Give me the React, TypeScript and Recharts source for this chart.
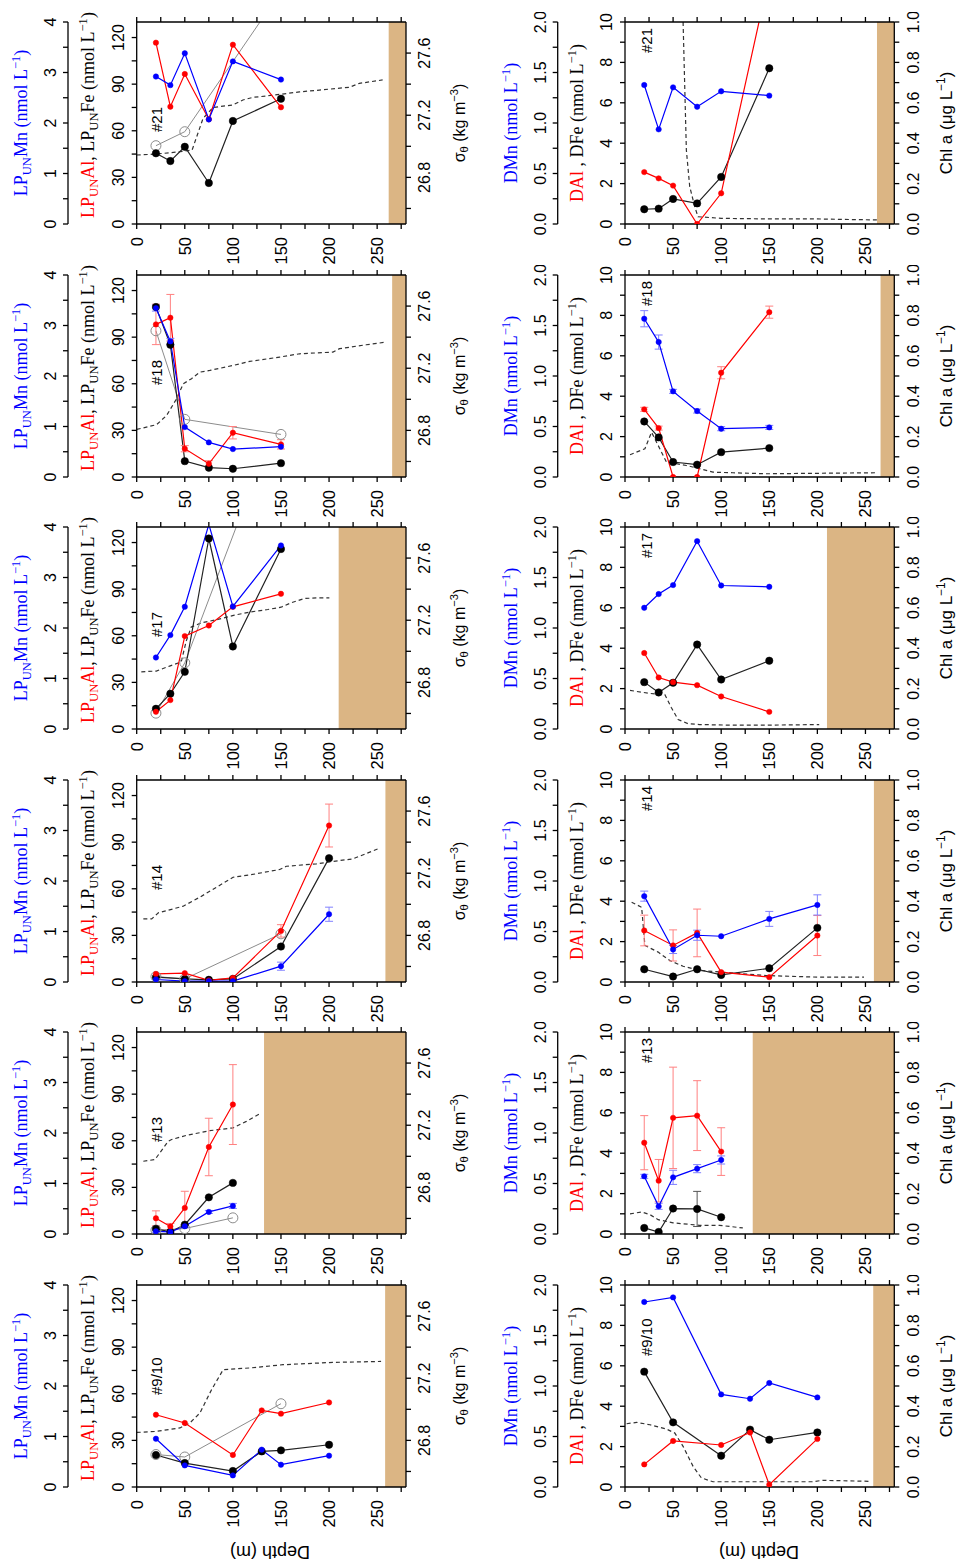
import React from 'react';
import { ComposedChart, Line, XAxis, YAxis, ReferenceArea, ErrorBar } from 'recharts';

const SANS = '"Liberation Sans", Arial, Helvetica, sans-serif';
const SERIF = '"Liberation Serif", "Times New Roman", serif';
const BLUE = '#0000ff';
const RED = '#ff0000';
const BLACK = '#000000';
const GRAY = '#8c8c8c';
const SAND = '#dbb584';

// ---------- tick arrays ----------
const depthTicks = [0, 25, 50, 75, 100, 125, 150, 175, 200, 225, 250, 275];
const feTicks = [0, 15, 30, 45, 60, 75, 90, 105, 120];
const mnTicks = [0, 0.5, 1, 1.5, 2, 2.5, 3, 3.5, 4];
const sigmaTicks = [26.6, 26.8, 27.0, 27.2, 27.4, 27.6];
const dTicks = [0, 1, 2, 3, 4, 5, 6, 7, 8, 9, 10];
const dmnTicks = [0, 0.25, 0.5, 0.75, 1, 1.25, 1.5, 1.75, 2];
const chlTicks = [0, 0.1, 0.2, 0.3, 0.4, 0.5, 0.6, 0.7, 0.8, 0.9, 1.0];

// ---------- station #21 ----------
const depth21 = [20, 35, 50, 75, 100, 150];
const mn21 = [2.92, 2.75, 3.38, 2.07, 3.22, 2.86];
const al21 = [116.7, 75.5, 96.5, 67.4, 115.4, 75.1];
const fe21 = [45.5, 40.5, 49.7, 26.4, 66.3, 80.6];
const grayDepth21 = [20, 50, 150];
const gray21 = [50.4, 59.4, 149.7];
const sigDepth21 = [0, 20, 44.9, 57.6, 69, 79.4, 100, 110.4, 120.8, 134.7, 150, 169.2, 190, 221, 231.5, 255.7];
const sig21 = [26.944, 26.95, 26.965, 26.976, 27.18, 27.25, 27.266, 27.298, 27.315, 27.324, 27.335, 27.35, 27.362, 27.38, 27.405, 27.427];
const dmn21 = [1.376, 0.937, 1.353, 1.161, 1.314, 1.271];
const dal21 = [2.57, 2.26, 1.9, 0, 1.52, 12.3];
const dfe21 = [0.73, 0.76, 1.24, 1.02, 2.33, 7.71];
const chlDepth21 = [60.4, 63.8, 67.3, 72.5, 75.9, 100, 150, 200, 262];
const chl21 = [1.0, 0.366, 0.185, 0.086, 0.036, 0.028, 0.025, 0.025, 0.02];

// ---------- station #18 ----------
const depth18 = [20, 35, 50, 75, 100, 150];
const mn18 = [3.345, 2.685, 0.988, 0.685, 0.553, 0.6];
const mnErr18 = [0.06, 0.06, 0, 0, 0, 0];
const al18 = [98.2, 102.5, 18.2, 8.5, 28.5, 21.0];
const alErr18 = [13, 15, 2, 2, 4, 3];
const fe18 = [109.4, 85.1, 10.2, 6.0, 5.3, 8.9];
const grayDepth18 = [20, 50, 150];
const gray18 = [94.1, 37.1, 27.4];
const sigDepth18 = [0, 20.7, 31.1, 41.5, 48.4, 57, 65.7, 76, 100.2, 117.5, 148.7, 169.4, 204, 210.9, 238.6, 259.4];
const sig18 = [26.806, 26.837, 26.896, 27.004, 27.1, 27.133, 27.175, 27.186, 27.218, 27.244, 27.272, 27.293, 27.304, 27.326, 27.351, 27.368];
const dmn18 = [1.567, 1.336, 0.848, 0.653, 0.478, 0.491];
const dmnErr18 = [0.08, 0.07, 0.02, 0.02, 0.02, 0.02];
const dal18 = [3.35, 2.42, 0, 0, 5.16, 8.16];
const dalErr18 = [0.1, 0.1, 0, 0, 0.3, 0.3];
const dfe18 = [2.75, 1.96, 0.74, 0.61, 1.23, 1.43];
const chlDepth18 = [5.2, 20.7, 27.6, 34.5, 43.1, 53.5, 63.9, 77.6, 91.4, 112.1, 146.7, 260.5];
const chl18 = [0.11, 0.14, 0.222, 0.156, 0.074, 0.066, 0.057, 0.041, 0.024, 0.021, 0.016, 0.021];

// ---------- station #17 ----------
const depth17 = [20, 35, 50, 75, 100, 150];
const mn17 = [1.416, 1.859, 2.42, 4.05, 2.426, 3.634];
const al17 = [11.1, 18.6, 59.8, 66.6, 78.6, 87.0];
const fe17 = [13.0, 22.7, 36.8, 122.6, 53.1, 115.8];
const grayDepth17 = [20, 50, 150];
const gray17 = [10.2, 42.6, 206];
const sigDepth17 = [4.8, 20.4, 34.2, 46.3, 51.5, 56.7, 67.1, 84.4, 101.7, 119, 136.3, 150.1, 160.5, 174.3, 188.2, 200.3];
const sig17 = [26.868, 26.873, 26.905, 26.932, 27.066, 27.156, 27.183, 27.205, 27.233, 27.254, 27.269, 27.284, 27.312, 27.34, 27.344, 27.344];
const dmn17 = [1.2, 1.336, 1.425, 1.86, 1.421, 1.408];
const dal17 = [3.76, 2.55, 2.32, 2.17, 1.61, 0.85];
const dfe17 = [2.32, 1.81, 2.29, 4.18, 2.45, 3.38];
const chlDepth17 = [5.2, 25.9, 41.4, 48.3, 55.2, 65.6, 77.6, 112.1, 146.7, 201.9];
const chl17 = [0.191, 0.176, 0.171, 0.105, 0.047, 0.026, 0.022, 0.019, 0.019, 0.022];

// ---------- station #14 ----------
const depth14 = [20, 50, 75, 100, 150, 200];
const mn14 = [0.05, 0.016, 0.016, 0.016, 0.313, 1.342];
const mnErr14 = [0, 0, 0, 0, 0.08, 0.14];
const al14 = [5.2, 5.7, 1.0, 2.6, 32.9, 100.7];
const alErr14 = [0, 0, 0, 0, 4, 13.8];
const fe14 = [3.1, 2.0, 1.4, 2.0, 22.8, 79.7];
const grayDepth14 = [20, 50, 150];
const gray14 = [3.5, 2.0, 31.0];
const sigDepth14 = [6.9, 15.6, 22.5, 48.4, 65.7, 83, 100.2, 117.5, 148.7, 155.6, 186.7, 204, 224.7, 250.7];
const sig14 = [26.906, 26.906, 26.945, 26.988, 27.046, 27.11, 27.174, 27.189, 27.224, 27.245, 27.26, 27.276, 27.292, 27.357];
const dmn14 = [0.85, 0.322, 0.463, 0.453, 0.625, 0.763];
const dmnErr14 = [0.05, 0.04, 0.05, 0, 0.074, 0.1];
const dal14 = [2.55, 1.81, 2.43, 0.49, 0.24, 2.3];
const dalErr14 = [0.76, 0.77, 1.18, 0, 0, 0.99];
const dfe14 = [0.63, 0.27, 0.63, 0.35, 0.68, 2.68];
const chlDepth14 = [6.9, 17.3, 20.7, 34.5, 46.6, 60.4, 77.6, 100.1, 146.7, 200.2, 248.5];
const chl14 = [0.395, 0.37, 0.181, 0.148, 0.106, 0.078, 0.057, 0.049, 0.032, 0.024, 0.024];

// ---------- station #13 ----------
const depth13 = [20, 35, 50, 75, 100];
const mn13 = [0.053, 0.041, 0.153, 0.437, 0.556];
const mnErr13 = [0.02, 0.02, 0.03, 0.03, 0.05];
const al13 = [10.1, 4.8, 16.8, 56.0, 83.3];
const alErr13 = [4.8, 2, 10.7, 18.5, 25.7];
const fe13 = [3.3, 1.4, 6.0, 23.6, 32.9];
const grayDepth13 = [20, 50, 100];
const gray13 = [2.5, 3.5, 10.4];
const sigDepth13 = [6.9, 19, 32.8, 36.3, 51.9, 76, 100.2, 114, 127.9];
const sig13 = [26.968, 26.979, 27.097, 27.108, 27.135, 27.165, 27.183, 27.225, 27.273];
const dmn13 = [0.571, 0.274, 0.561, 0.647, 0.733];
const dmnErr13 = [0.02, 0.03, 0.07, 0.04, 0.04];
const dal13 = [4.52, 2.64, 5.75, 5.86, 4.08];
const dalErr13 = [1.34, 1.05, 2.51, 1.73, 1.18];
const dfe13 = [0.3, 0.1, 1.26, 1.24, 0.83];
const dfeErr13 = [0, 0, 0, 0.87, 0];
const chlDepth13 = [5.2, 17.3, 25.9, 34.5, 50, 77.6, 98.3, 122.5];
const chl13 = [0.0995, 0.109, 0.096, 0.071, 0.055, 0.043, 0.043, 0.03];

// ---------- station #9/10 ----------
const depth9 = [20, 50, 100, 130, 150, 200];
const mn9 = [0.956, 0.428, 0.23, 0.739, 0.442, 0.62];
const al9 = [46.5, 41.2, 20.6, 49.3, 47.2, 54.4];
const fe9 = [20.6, 15.4, 10.3, 22.9, 23.6, 27.2];
const grayDepth9 = [20, 50, 150];
const gray9 = [20.9, 19.3, 53.6];
const sigDepth9 = [0, 20.7, 44.9, 55.3, 65.7, 77.8, 89.9, 117.5, 152.1, 204, 254.1];
const sig9 = [26.851, 26.858, 26.88, 26.912, 26.976, 27.126, 27.255, 27.266, 27.287, 27.302, 27.308];
const dmn9 = [1.832, 1.877, 0.917, 0.874, 1.03, 0.887];
const dal9 = [1.12, 2.28, 2.08, 2.7, 0.11, 2.38];
const dfe9 = [5.71, 3.2, 1.55, 2.84, 2.34, 2.7];
const chlDepth9 = [1.7, 12.1, 25.9, 43.1, 51.8, 60.4, 70.8, 79.4, 91.4, 125.9, 160.5, 195, 205.4, 255.4];
const chl9 = [0.313, 0.32, 0.308, 0.287, 0.267, 0.201, 0.102, 0.045, 0.026, 0.026, 0.026, 0.026, 0.033, 0.028];

type Pt = { d: number; v: number; e: number };
const pts = (d: number[], v: number[], e?: number[] | null): Pt[] =>
  d.map((x, i) => ({ d: x, v: v[i], e: e ? e[i] : 0 }));

const leftPanels = [
  { label: '#21', labelY: 110, bottom: 262, depth: depth21, mn: mn21, mnErr: null, al: al21, alErr: null, fe: fe21, gd: grayDepth21, gv: gray21, sd: sigDepth21, sv: sig21 },
  { label: '#18', labelY: 110, bottom: 265.6, depth: depth18, mn: mn18, mnErr: mnErr18, al: al18, alErr: alErr18, fe: fe18, gd: grayDepth18, gv: gray18, sd: sigDepth18, sv: sig18 },
  { label: '#17', labelY: 110, bottom: 210, depth: depth17, mn: mn17, mnErr: null, al: al17, alErr: null, fe: fe17, gd: grayDepth17, gv: gray17, sd: sigDepth17, sv: sig17 },
  { label: '#14', labelY: 110, bottom: 258.6, depth: depth14, mn: mn14, mnErr: mnErr14, al: al14, alErr: alErr14, fe: fe14, gd: grayDepth14, gv: gray14, sd: sigDepth14, sv: sig14 },
  { label: '#13', labelY: 110, bottom: 132.4, depth: depth13, mn: mn13, mnErr: mnErr13, al: al13, alErr: alErr13, fe: fe13, gd: grayDepth13, gv: gray13, sd: sigDepth13, sv: sig13 },
  { label: '#9/10', labelY: 110, bottom: 258.3, depth: depth9, mn: mn9, mnErr: null, al: al9, alErr: null, fe: fe9, gd: grayDepth9, gv: gray9, sd: sigDepth9, sv: sig9 },
];

const rightPanels = [
  { label: '#21', labelY: 31, bottom: 262, depth: depth21, dmn: dmn21, dmnErr: null, dal: dal21, dalErr: null, dfe: dfe21, dfeErr: null, cd: chlDepth21, cv: chl21 },
  { label: '#18', labelY: 31, bottom: 265.7, depth: depth18, dmn: dmn18, dmnErr: dmnErr18, dal: dal18, dalErr: dalErr18, dfe: dfe18, dfeErr: null, cd: chlDepth18, cv: chl18 },
  { label: '#17', labelY: 31, bottom: 210, depth: depth17, dmn: dmn17, dmnErr: null, dal: dal17, dalErr: null, dfe: dfe17, dfeErr: null, cd: chlDepth17, cv: chl17 },
  { label: '#14', labelY: 31, bottom: 258.8, depth: depth14, dmn: dmn14, dmnErr: dmnErr14, dal: dal14, dalErr: dalErr14, dfe: dfe14, dfeErr: null, cd: chlDepth14, cv: chl14 },
  { label: '#13', labelY: 31, bottom: 132.8, depth: depth13, dmn: dmn13, dmnErr: dmnErr13, dal: dal13, dalErr: dalErr13, dfe: dfe13, dfeErr: dfeErr13, cd: chlDepth13, cv: chl13 },
  { label: '#9/10', labelY: 71, bottom: 258.1, depth: depth9, dmn: dmn9, dmnErr: null, dal: dal9, dalErr: null, dfe: dfe9, dfeErr: null, cd: chlDepth9, cv: chl9 },
];

// ---------- layout constants ----------
const ROW0 = 22;
const PITCH = 252.6;
const PLOT_H = 202;
const CH_H = 253;

type TickCfg = { side: 'left' | 'right' | 'bottom'; every: number; fmt: (v: number) => string; size?: number };
function makeTick(cfg: TickCfg) {
  return (props: any) => {
    const { x, y, payload } = props;
    const v = payload.value as number;
    const k = v / cfg.every;
    if (Math.abs(k - Math.round(k)) > 1e-6) return <g />;
    const fs = cfg.size ?? 16;
    if (cfg.side === 'bottom') {
      return (
        <text x={x} y={y} transform={`rotate(-90 ${x} ${y})`} textAnchor="end" dominantBaseline="central"
          fontSize={fs} fontFamily={SANS} fill="#000">{cfg.fmt(v)}</text>
      );
    }
    const cx = cfg.side === 'left' ? x - fs * 0.45 : x + fs * 0.45;
    return (
      <text x={cx} y={y} transform={`rotate(-90 ${cx} ${y})`} textAnchor="middle" dominantBaseline="central"
        fontSize={fs} fontFamily={SANS} fill="#000">{cfg.fmt(v)}</text>
    );
  };
}
const Empty = () => <g />;

const depthTick = makeTick({ side: 'bottom', every: 50, fmt: (v) => String(v), size: 16.5 });
const feTick = makeTick({ side: 'left', every: 30, fmt: (v) => String(v) });
const mnTick = makeTick({ side: 'left', every: 1, fmt: (v) => String(v) });
const sigTick = makeTick({ side: 'right', every: 0.4, fmt: (v) => v.toFixed(1) });
const dTick = makeTick({ side: 'left', every: 2, fmt: (v) => String(v) });
const dmnTick = makeTick({ side: 'left', every: 0.5, fmt: (v) => v.toFixed(1) });
const chlTick = makeTick({ side: 'right', every: 0.2, fmt: (v) => v.toFixed(1) });

const axisStyle = { stroke: '#000', strokeWidth: 1.3 };

function depthAxes() {
  return [
    <XAxis key="xb" xAxisId="b" type="number" dataKey="d" domain={[0, 280]} ticks={depthTicks} interval={0}
      allowDataOverflow tickSize={5} tickMargin={8} height={41} tick={depthTick}
      axisLine={axisStyle} tickLine={axisStyle} />,
    <XAxis key="xt" xAxisId="t" orientation="top" type="number" dataKey="d" domain={[0, 280]} ticks={depthTicks}
      interval={0} allowDataOverflow tickSize={5} height={8} tick={Empty}
      axisLine={axisStyle} tickLine={axisStyle} />,
  ];
}

const smallDot = (c: string) => ({ r: 2.7, fill: c, stroke: c, strokeWidth: 0.5 });
const bigDot = { r: 3.7, fill: BLACK, stroke: BLACK, strokeWidth: 0.5 };
const openDot = { r: 5, fill: 'none', stroke: GRAY, strokeWidth: 1 };

function LeftPanel({ p, row }: { p: any; row: number }) {
  const plotTop = ROW0 + PITCH * row;
  return (
    <div style={{ position: 'absolute', left: 0, top: plotTop - 10, width: 480, height: CH_H }}>
      <ComposedChart width={480} height={CH_H} margin={{ top: 2, right: 30, bottom: 0, left: 0 }}>
        {depthAxes()}
        <YAxis yAxisId="fe" type="number" domain={[0, 130]} ticks={feTicks} interval={0} allowDataOverflow
          width={68.7} tickSize={5} tickMargin={6} tick={feTick} axisLine={axisStyle} tickLine={axisStyle} />
        <YAxis yAxisId="mn" type="number" domain={[0, 4]} ticks={mnTicks} interval={0} allowDataOverflow
          width={68} tickSize={5} tickMargin={5} tick={mnTick} axisLine={axisStyle} tickLine={axisStyle} />
        <YAxis yAxisId="sig" orientation="right" type="number" domain={[26.5, 27.8]} ticks={sigmaTicks} interval={0}
          allowDataOverflow width={44} tickSize={5} tickMargin={6} tick={sigTick} axisLine={axisStyle} tickLine={axisStyle} />
        <ReferenceArea xAxisId="b" yAxisId="fe" x1={p.bottom} x2={280} y1={0} y2={130}
          fill={SAND} fillOpacity={1} stroke="none" ifOverflow="hidden" />
        <Line xAxisId="b" yAxisId="sig" data={pts(p.sd, p.sv)} dataKey="v" stroke="#333" strokeWidth={1.2}
          strokeDasharray="4 3" dot={false} activeDot={false} isAnimationActive={false} />
        <Line xAxisId="b" yAxisId="fe" data={pts(p.gd, p.gv)} dataKey="v" stroke={GRAY} strokeWidth={1}
          dot={openDot} activeDot={false} isAnimationActive={false} />
        <Line xAxisId="b" yAxisId="fe" data={pts(p.depth, p.fe)} dataKey="v" stroke="#222" strokeWidth={1.2}
          dot={bigDot} activeDot={false} isAnimationActive={false} />
        <Line xAxisId="b" yAxisId="fe" data={pts(p.depth, p.al, p.alErr)} dataKey="v" stroke={RED} strokeWidth={1.2}
          dot={smallDot(RED)} activeDot={false} isAnimationActive={false}>
          {p.alErr && <ErrorBar dataKey="e" width={4} stroke="#ff8080" strokeWidth={1} isAnimationActive={false} />}
        </Line>
        <Line xAxisId="b" yAxisId="mn" data={pts(p.depth, p.mn, p.mnErr)} dataKey="v" stroke={BLUE} strokeWidth={1.2}
          dot={smallDot(BLUE)} activeDot={false} isAnimationActive={false}>
          {p.mnErr && <ErrorBar dataKey="e" width={4} stroke="#8080ff" strokeWidth={1} isAnimationActive={false} />}
        </Line>
      </ComposedChart>
    </div>
  );
}

function RightPanel({ p, row }: { p: any; row: number }) {
  const plotTop = ROW0 + PITCH * row;
  return (
    <div style={{ position: 'absolute', left: 480, top: plotTop - 10, width: 477, height: CH_H }}>
      <ComposedChart width={477} height={CH_H} margin={{ top: 2, right: 18.7, bottom: 0, left: 0 }}>
        {depthAxes()}
        <YAxis yAxisId="dal" type="number" domain={[0, 10]} ticks={dTicks} interval={0} allowDataOverflow
          width={67.3} tickSize={5} tickMargin={6} tick={dTick} axisLine={axisStyle} tickLine={axisStyle} />
        <YAxis yAxisId="dmn" type="number" domain={[0, 2]} ticks={dmnTicks} interval={0} allowDataOverflow
          width={77.7} tickSize={5} tickMargin={5} tick={dmnTick} axisLine={axisStyle} tickLine={axisStyle} />
        <YAxis yAxisId="chl" orientation="right" type="number" domain={[0, 1]} ticks={chlTicks} interval={0}
          allowDataOverflow width={44} tickSize={5} tickMargin={7} tick={chlTick} axisLine={axisStyle} tickLine={axisStyle} />
        <ReferenceArea xAxisId="b" yAxisId="dal" x1={p.bottom} x2={280} y1={0} y2={10}
          fill={SAND} fillOpacity={1} stroke="none" ifOverflow="hidden" />
        <Line xAxisId="b" yAxisId="chl" data={pts(p.cd, p.cv)} dataKey="v" stroke="#333" strokeWidth={1.2}
          strokeDasharray="4 3" dot={false} activeDot={false} isAnimationActive={false} />
        <Line xAxisId="b" yAxisId="dal" data={pts(p.depth, p.dfe, p.dfeErr)} dataKey="v" stroke="#222" strokeWidth={1.2}
          dot={bigDot} activeDot={false} isAnimationActive={false}>
          {p.dfeErr && <ErrorBar dataKey="e" width={4} stroke="#555" strokeWidth={1} isAnimationActive={false} />}
        </Line>
        <Line xAxisId="b" yAxisId="dal" data={pts(p.depth, p.dal, p.dalErr)} dataKey="v" stroke={RED} strokeWidth={1.2}
          dot={smallDot(RED)} activeDot={false} isAnimationActive={false}>
          {p.dalErr && <ErrorBar dataKey="e" width={4} stroke="#ff8080" strokeWidth={1} isAnimationActive={false} />}
        </Line>
        <Line xAxisId="b" yAxisId="dmn" data={pts(p.depth, p.dmn, p.dmnErr)} dataKey="v" stroke={BLUE} strokeWidth={1.2}
          dot={smallDot(BLUE)} activeDot={false} isAnimationActive={false}>
          {p.dmnErr && <ErrorBar dataKey="e" width={4} stroke="#8080ff" strokeWidth={1} isAnimationActive={false} />}
        </Line>
      </ComposedChart>
    </div>
  );
}

const subStyle: React.CSSProperties = { fontSize: '0.7em', verticalAlign: '-0.3em', lineHeight: 1 };
const supStyle: React.CSSProperties = { fontSize: '0.7em', verticalAlign: '0.55em', lineHeight: 1 };

function Rot({ cx, cy, children, font, size, angle = -90 }: any) {
  return (
    <div style={{
      position: 'absolute', left: cx, top: cy, transform: `translate(-50%, -50%) rotate(${angle}deg)`,
      whiteSpace: 'nowrap', fontFamily: font, fontSize: size, lineHeight: 1, color: '#000',
    }}>{children}</div>
  );
}

function StationLabel({ x, yBottom, text }: { x: number; yBottom: number; text: string }) {
  return (
    <div style={{
      position: 'absolute', left: x, top: yBottom - 8, height: 16, lineHeight: '16px',
      transform: 'rotate(-90deg)', transformOrigin: '0 50%', whiteSpace: 'nowrap',
      fontFamily: SANS, fontSize: 15, color: '#000',
    }}>{text}</div>
  );
}

export default function App() {
  const rows = [0, 1, 2, 3, 4, 5];
  return (
    <div style={{ position: 'absolute', left: 0, top: 0, width: 957, height: 1564, background: '#fff', overflow: 'hidden' }}>
      {leftPanels.map((p, i) => <LeftPanel key={'l' + i} p={p} row={i} />)}
      {rightPanels.map((p, i) => <RightPanel key={'r' + i} p={p} row={i} />)}
      {rows.map((i) => {
        const top = ROW0 + PITCH * i;
        const cy = top + PLOT_H / 2;
        return (
          <React.Fragment key={'t' + i}>
            <Rot cx={22} cy={cy} font={SERIF} size={18}>
              <span style={{ color: BLUE }}>LP<span style={subStyle}>UN</span>Mn (nmol L<span style={supStyle}>−1</span>)</span>
            </Rot>
            <Rot cx={89} cy={cy - 8} font={SERIF} size={18}>
              <span style={{ color: RED }}>LP<span style={subStyle}>UN</span>Al</span>
              <span>, LP<span style={subStyle}>UN</span>Fe (nmol L<span style={supStyle}>−1</span>)</span>
            </Rot>
            <Rot cx={460} cy={cy} font={SANS} size={16}>
              <span>σ<span style={subStyle}>θ</span> (kg m<span style={supStyle}>−3</span>)</span>
            </Rot>
            <Rot cx={510} cy={cy} font={SERIF} size={18}>
              <span style={{ color: BLUE }}>DMn (nmol L<span style={supStyle}>−1</span>)</span>
            </Rot>
            <Rot cx={576} cy={cy} font={SERIF} size={18}>
              <span style={{ color: RED }}>DAl</span>
              <span> , DFe (nmol L<span style={supStyle}>−1</span>)</span>
            </Rot>
            <Rot cx={945} cy={cy} font={SANS} size={17}>
              <span>Chl a (μg L<span style={supStyle}>−1</span>)</span>
            </Rot>
            <StationLabel x={157} yBottom={top + leftPanels[i].labelY} text={leftPanels[i].label} />
            <StationLabel x={647} yBottom={top + rightPanels[i].labelY} text={rightPanels[i].label} />
          </React.Fragment>
        );
      })}
      <Rot cx={270} cy={1552} font={SANS} size={18} angle={180}>Depth (m)</Rot>
      <Rot cx={759} cy={1552} font={SANS} size={18} angle={180}>Depth (m)</Rot>
    </div>
  );
}
